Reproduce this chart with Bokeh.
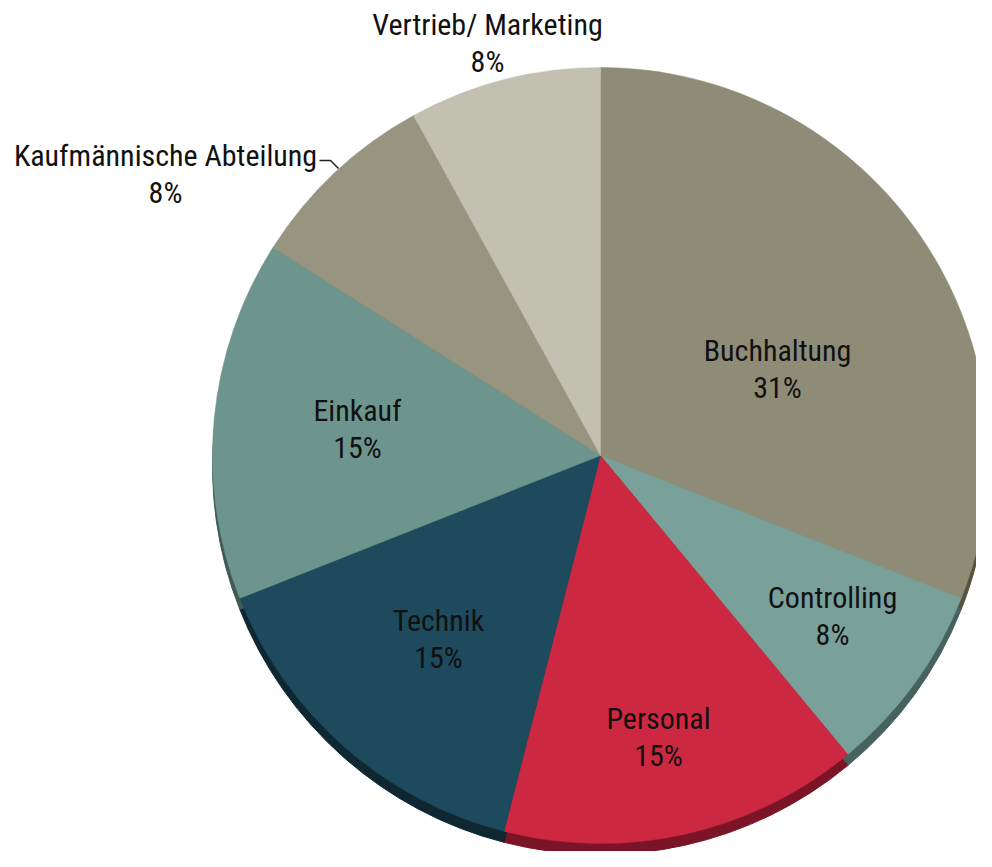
import math
from bokeh.plotting import figure
from bokeh.models import Range1d, ColumnDataSource
from bokeh.core.properties import value
from bokeh.embed import file_html
from bokeh.resources import INLINE

# ---- data ----
categories = ["Buchhaltung", "Controlling", "Personal", "Technik", "Einkauf",
              "Kaufmännische Abteilung", "Vertrieb/ Marketing"]
shares = [31, 8, 15, 15, 15, 8, 8]
pct_labels = ["31%", "8%", "15%", "15%", "15%", "8%", "8%"]
colors = ["#8e8c77", "#7aa09a", "#cc2842", "#1e4a5e", "#6d958d", "#97947f", "#c2c0b0"]
shadow_colors = ["#55533f", "#46625d", "#7a1426", "#0e2731", "#3f5a55", "#5a584a", "#7b796d"]

# ---- layout (pixels, from the top-left corner of the figure) ----
W, H = 976, 851
def px(ix, iy):
    return ix, H - iy

CX, CY = px(600, 455)
R = 388
SHADOW_DY = 11
# label anchor (name line) positions
label_pos = [(777, 350), (832, 597), (658, 718), (438, 620), (357, 410), (165, 155), (487, 24)]
LINE_GAP = 37

total = sum(shares)
starts, ends = [], []
acc = 0.0
for s in shares:
    a0 = math.pi / 2 - acc / total * 2 * math.pi
    acc += s
    a1 = math.pi / 2 - acc / total * 2 * math.pi
    starts.append(a0)
    ends.append(a1)

src = ColumnDataSource(dict(cat=categories, share=shares, start=starts, end=ends,
                            color=colors, shadow=shadow_colors))

p = figure(width=W, height=H, output_backend="svg", toolbar_location=None,
           x_range=Range1d(0, W), y_range=Range1d(0, H),
           x_axis_location=None, y_axis_location=None, min_border=0)
p.grid.visible = False
p.outline_line_color = None
p.background_fill_color = "white"
p.border_fill_color = "white"

# 3D-ish rim / shadow
p.wedge(x=CX, y=CY - SHADOW_DY, radius=R, start_angle="start", end_angle="end",
        direction="clock", fill_color="shadow", line_color="shadow", line_width=1, source=src)
# top surface
p.wedge(x=CX, y=CY, radius=R, start_angle="start", end_angle="end",
        direction="clock", fill_color="color", line_color="color", line_width=0.5, source=src)

font = value("Liberation Sans Narrow, Roboto Condensed, DejaVu Sans Condensed, sans-serif")
nx, ny, qx, qy = [], [], [], []
for (ix, iy) in label_pos:
    x, y = px(ix, iy)
    nx.append(x); ny.append(y)
    qx.append(x); qy.append(y - LINE_GAP)

p.text(x=nx, y=ny, text=categories, text_font=font, text_font_size="30px",
       text_color="#111111", text_align="center", text_baseline="middle")
p.text(x=qx, y=qy, text=pct_labels, text_font=font, text_font_size="30px",
       text_color="#111111", text_align="center", text_baseline="middle")

# leader line for "Kaufmännische Abteilung"
lx, ly = zip(px(319, 160), px(330, 160), px(338, 168))
p.line(x=list(lx), y=list(ly), line_color="#222222", line_width=1.5)

open("out.html", "w").write(file_html(p, INLINE))
